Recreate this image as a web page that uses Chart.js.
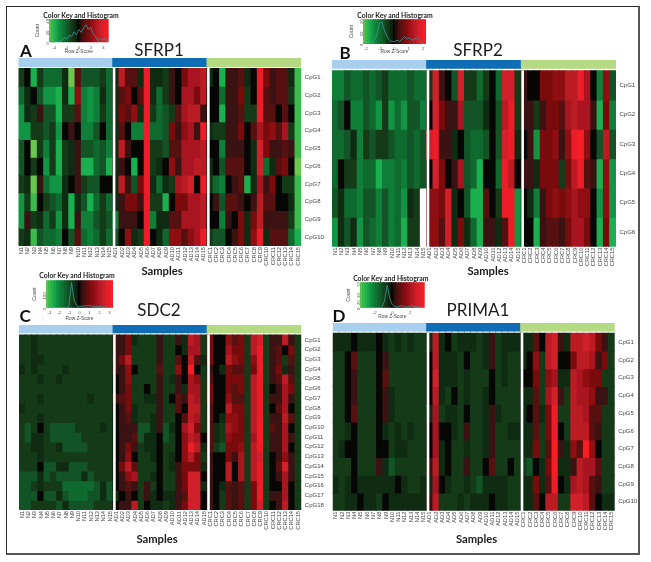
<!DOCTYPE html>
<html><head><meta charset="utf-8">
<style>
html,body{margin:0;padding:0;background:#fff;width:651px;height:562px;overflow:hidden}
#page{position:absolute;left:0;top:0;width:651px;height:562px;filter:blur(0.45px)}
#frame{position:absolute;left:6px;top:6px;width:631px;height:546px;border:1.5px solid #2b2b2b;border-right:2px solid #555;border-bottom:2px solid #555}
canvas{position:absolute}
.t{position:absolute;transform:translate(-50%,-50%);white-space:nowrap;line-height:1;color:#1c1c1c;font-family:Lato,sans-serif}
</style>
<script src="https://cdn.jsdelivr.net/npm/chart.js@4"></script>
</head><body><div id="page"><div id="frame"></div></div>
<script>
// ---------- data: row z-score level, -9 (green) .. 0 (black) .. 9 (red) ----------
const samples = ['N1','N2','N3','N4','N5','N6','N7','N8','N9','N10','N11','N12','N13','N14','N15',
 'AD1','AD2','AD3','AD4','AD5','AD6','AD7','AD8','AD9','AD10','AD11','AD12','AD13','AD14','AD15',
 'CRC1','CRC2','CRC3','CRC4','CRC5','CRC6','CRC7','CRC8','CRC9','CRC10','CRC11','CRC12','CRC13','CRC14','CRC15'];
const groupColors = ['#a9cfee','#0f6db6','#b4da84'];

const sfrp1 = [
 [-2,0,-7,-2,-4,-4,-4,-1,-9,2,-3,-3,-3,-2,-4,  -1,6,2,2,-1,8,-1,-1,-2,1,0,3,5,5,6,  -1,0,-7,1,1,2,-1,0,8,3,1,2,2,-1,-8],
 [-4,-1,0,-3,-6,-6,-7,-1,-7,4,-5,-6,-5,-1,-4,  -1,2,3,0,2,8,-1,-4,-2,1,0,5,5,3,6,  0,0,-4,1,1,3,-2,0,8,2,1,2,2,-2,-8],
 [-6,-1,-2,1,-3,-3,-7,-2,-2,2,-5,-6,-5,-2,-4,  -1,3,2,4,-1,8,-2,-4,-3,-2,2,5,6,6,1,  0,0,-7,1,1,2,-2,-2,8,2,2,0,2,0,-8],
 [-6,-6,-2,-2,-3,-2,-6,0,1,0,-5,-5,-3,0,-4,  -1,2,0,-5,-5,8,-4,-4,-3,3,1,4,5,1,8,  -1,-2,-2,1,1,3,0,2,5,3,4,2,5,-2,-8],
 [-3,0,-9,-2,-5,-2,-7,-2,-1,1,-3,-3,-4,-3,-5,  -1,6,1,0,0,8,-2,-2,-3,2,2,5,5,5,6,  0,0,-5,1,1,1,0,-1,7,3,1,1,2,1,-8],
 [-3,0,-2,0,-6,-2,-7,-2,-1,1,-7,-7,-4,-3,-7,  -1,1,0,-7,0,8,-2,-1,0,4,1,5,5,6,6,  -1,0,-3,2,2,2,0,-1,7,-4,-1,2,3,0,-9],
 [-2,-1,-9,1,-4,-6,-6,-1,0,1,-2,-3,-3,0,0,  -1,6,1,-3,3,8,-1,-4,-1,-2,5,6,7,0,8,  -2,-4,-5,0,1,2,-7,-1,5,1,3,0,-2,-2,-8],
 [-6,-2,-8,0,-2,-3,-4,-1,-7,-1,-3,-7,-4,-2,-4,  -1,1,3,3,1,8,-2,-2,-7,0,3,3,5,5,6,  0,1,-3,2,2,1,0,1,6,2,2,0,0,-1,-8],
 [-6,1,-2,-1,-4,-2,-6,-1,-7,1,-5,-5,-3,-2,-3,  -5,1,1,1,0,8,-5,-1,-1,2,2,5,5,5,6,  0,0,-5,1,0,3,-1,3,6,1,1,1,1,-2,-8],
 [-2,-1,-8,-3,-4,-4,-5,0,-3,2,-4,-5,-4,-2,-4,  -3,0,4,-1,-2,8,0,-1,-4,4,4,2,4,5,8,  -2,-3,-3,0,1,3,-1,4,8,-1,2,2,2,-4,-7]
];
const sfrp2 = [
 [-5,-5,-3,-4,-4,-3,-4,-3,-2,-4,-4,-4,-3,-4,-4,  -2,7,1,0,-3,7,-2,-2,-4,-2,0,-4,7,7,-2,  1,0,0,3,3,4,4,6,6,8,5,0,-5,4,-3],
 [-4,-3,0,-5,-5,-3,-4,-6,-2,-6,-4,-6,-3,-3,-5,  0,7,3,1,1,5,-3,-3,-3,-1,0,-3,6,8,-2,  1,1,-2,1,3,3,2,5,6,5,5,1,-7,3,-5],
 [-4,-4,-3,-1,-5,-2,-3,-2,-2,-3,-4,-4,-3,-4,-3,  7,8,1,1,-1,0,-3,-4,-4,-3,0,-3,7,8,-1,  0,1,-6,3,3,4,1,4,8,9,4,0,-3,6,-3],
 [-4,0,-2,-2,-5,-4,-4,-7,-5,-5,-4,-5,-3,-4,-3,  0,7,3,0,1,5,-3,-4,-7,0,0,-4,8,6,0,  1,1,-1,3,3,3,-2,3,6,8,2,1,-7,4,-6],
 [-3,-1,-4,-4,-5,-3,-3,-5,-3,-5,-4,-6,-1,-2,null,  4,4,3,7,-1,0,-3,-7,-7,2,0,-2,8,8,-6,  0,-1,-5,1,3,4,3,4,5,4,4,0,-6,4,-6],
 [-6,-1,-3,-1,-6,-3,-4,-5,-3,-5,-4,-7,-2,-2,null,  4,4,2,7,-1,3,-1,-4,-7,1,1,-1,2,8,-6,  0,0,-7,1,2,2,1,3,5,5,3,0,-7,3,-7]
];
const sdc2 = [
 [-2,-2,-1,-2,-2,-2,-2,-2,-2,-2,-2,-2,-2,-2,-2,  1,1,3,-1,-2,-2,-2,1,-2,-2,1,-1,6,5,-2,  3,0,0,4,2,3,-2,6,7,-2,1,1,6,1,-2],
 [-2,-2,-1,-2,-2,-2,-2,-2,-2,-2,-2,-2,-2,-2,-2,  1,1,3,-2,-2,-2,-2,1,-2,-2,0,-1,5,5,-2,  3,0,0,5,3,3,-2,6,8,-2,1,2,0,3,-2],
 [-2,-2,-1,-1,-2,-2,-2,-2,-2,-2,-2,-2,-2,-2,-2,  1,3,6,-2,-2,-2,-2,1,-2,-2,2,0,6,2,-1,  3,0,0,6,4,3,-2,4,8,-2,1,2,-2,2,-2],
 [-1,-2,-1,-2,-2,-2,-2,-1,-2,-2,-2,-2,-2,-2,-2,  1,1,4,0,-2,-2,-2,2,-2,-2,4,0,9,0,-2,  1,0,-1,3,2,2,-2,3,8,-2,1,3,-1,1,-2],
 [-2,-2,-2,-1,-2,-2,-1,-2,-2,-2,-2,-2,-2,-2,-2,  0,1,4,-2,-2,-2,-2,1,-2,-1,1,0,5,4,-2,  2,0,0,3,3,3,-2,6,8,-2,1,2,6,2,-2],
 [-2,-2,-2,-2,-2,-2,-2,-2,-2,-2,-2,-2,-2,-2,-2,  0,1,3,-2,-2,0,-2,1,-2,-2,1,-1,5,5,-2,  3,0,0,3,2,3,-2,6,8,-2,0,1,5,3,-2],
 [-2,-2,-2,-1,-2,-2,-2,-2,-2,-2,-2,-1,-2,-2,-2,  1,2,3,-2,-2,-1,-1,1,-2,0,2,1,6,5,-2,  3,0,0,4,2,2,-2,6,8,-2,1,1,5,1,-2],
 [-1,-2,-2,-2,-2,-2,-2,-2,-2,-2,-2,-2,-2,-2,-2,  0,1,3,-1,-2,-2,-2,1,-2,-2,2,0,6,6,-2,  2,0,0,6,3,3,-2,6,8,-2,0,2,5,0,-2],
 [-2,-2,-2,-1,-2,-2,-2,-2,-2,-2,-2,-2,-2,-2,-2,  0,1,2,-1,-2,-2,-1,1,-2,-2,0,2,6,5,-2,  2,0,-1,4,4,3,-2,6,8,-2,1,1,6,2,-2],
 [-2,-3,-2,0,-2,-3,-3,-3,-3,-2,-2,-2,-2,-1,-2,  0,1,1,1,-3,-3,-1,1,-3,-1,0,5,7,3,-2,  2,-1,-2,5,4,3,-2,6,9,-2,2,1,5,0,-2],
 [-2,-3,-1,-1,-2,-3,-3,-3,-3,-3,-2,-2,-2,-2,-2,  0,1,1,2,-3,-1,-1,0,-3,-2,0,4,6,5,0,  2,-1,-2,4,3,3,-2,5,9,-2,1,1,5,1,-2],
 [-2,-2,-1,-1,-2,-2,-1,-3,-3,-3,-3,-2,-2,-2,-2,  0,1,3,1,-2,-1,-1,0,-2,-2,0,4,8,6,-1,  2,-2,-3,3,3,4,-2,6,8,-2,1,1,5,0,-2],
 [-2,-2,-2,-1,-2,-2,-2,-2,-2,-2,-2,-2,-2,-2,-2,  0,1,4,0,-2,-2,-1,0,-2,-1,0,4,6,3,-2,  1,0,0,3,1,5,-2,6,7,-2,0,1,4,1,-2],
 [-2,-2,-2,0,-3,-3,-1,-1,-3,-3,-3,-2,-2,-2,-2,  0,3,6,2,-2,-2,-2,0,-2,-1,1,3,3,3,-1,  1,0,0,6,0,5,-2,6,8,-2,0,2,7,1,-2],
 [-3,-3,-3,-1,-3,-2,-3,-3,-3,-3,-1,-3,-2,-2,-2,  0,1,4,5,-2,-2,-1,0,-2,-2,1,3,7,7,0,  1,0,0,6,0,5,-2,6,8,-2,0,1,5,1,-2],
 [-3,-3,-2,-1,-2,-2,-2,-4,-4,-4,-4,-4,-3,-1,-3,  0,1,2,1,-2,1,-2,0,-2,-2,1,3,7,7,-1,  1,0,-1,2,1,2,-2,3,8,-2,0,0,5,0,-2],
 [-3,-3,-3,0,-3,-3,-1,-3,-4,-4,-4,-3,-3,-1,-3,  -1,0,1,0,-2,1,-1,0,-1,-1,1,2,7,7,0,  1,0,-2,2,1,2,-2,3,8,-2,1,1,5,0,-2],
 [-3,-3,-2,-2,-2,-2,-3,-1,-3,-3,-3,-3,-2,-2,-2,  0,1,1,6,-2,0,-1,-1,-2,-1,1,3,7,7,0,  1,0,-2,2,1,2,-2,3,7,-2,0,1,6,0,-2]
];
const prima1 = [
 [-1,-1,-1,0,-1,-1,-1,0,-1,-2,-1,-2,-1,-2,-2,  -1,6,-1,0,-2,-1,-1,-1,-2,-1,1,-2,-1,-1,-1,  -1,-1,2,0,6,7,1,-1,6,6,7,6,3,1,-2],
 [-2,-2,0,2,-2,-2,-2,0,1,-2,-2,-2,-2,-2,-2,  0,6,-1,-1,-1,-2,0,-2,-2,-1,1,-2,-1,-2,-2,  -1,0,4,-2,6,7,0,0,3,6,6,5,1,3,-2],
 [-2,-2,0,1,-2,-2,-2,0,2,-2,-2,-2,-2,-2,-2,  0,7,-1,-1,-1,-2,-1,-2,-2,-2,0,-2,-1,-2,-2,  0,0,3,-2,4,5,-1,-1,6,5,4,3,3,-2,-2],
 [-2,-2,0,1,-2,-2,-2,0,1,-1,-2,-2,-2,-2,-2,  0,6,-1,-2,0,-2,-1,-2,-2,-1,0,-2,-2,-2,-2,  -1,-1,2,-2,5,7,1,-2,6,5,5,4,1,1,-2],
 [-2,-2,0,2,-2,-2,-2,0,1,-1,-2,-2,-2,-2,-2,  -1,5,-2,-1,-1,-2,0,-2,-2,-1,1,-1,-2,-2,-2,  -1,0,2,-1,3,8,-2,-2,6,6,5,2,2,-2,-2],
 [-2,-2,-1,0,-2,-2,-2,0,-1,-2,-1,-2,-1,-2,-2,  0,5,0,0,-1,-2,1,-2,-2,-1,1,-2,-2,-1,-1,  -1,-1,2,-2,3,8,0,-2,6,6,6,2,1,-2,-2],
 [-2,-1,0,0,-2,-2,-2,0,0,-2,-1,-1,-2,-2,-2,  0,5,-1,0,-2,-2,-1,-2,-2,-1,1,-2,-2,-2,-2,  -1,-1,3,-2,2,9,1,-1,4,2,9,4,0,-2,-2],
 [-2,-2,-2,0,-2,-2,-2,1,-1,-3,-2,-2,-2,-2,-2,  1,6,-1,0,-2,-2,1,-2,-2,0,2,-2,-2,0,-2,  -2,-3,0,-1,3,9,-1,-1,1,6,5,5,2,-2,-2],
 [-1,-2,-1,0,-1,-1,-1,-1,-1,-1,0,-1,-2,-2,-1,  -1,5,0,-1,-2,-2,-1,-2,-3,-1,-1,-1,-1,-2,-2,  -1,-1,3,-1,2,8,0,-1,5,6,5,2,1,-2,-2],
 [-2,-2,-1,-1,0,-1,-1,-2,0,-1,-1,-1,-1,-1,-1,  1,6,-2,-2,-2,-1,-2,-1,-1,-1,0,-1,-1,-2,-2,  -1,-1,2,0,6,6,-2,-2,7,7,6,2,0,-1,-1]
];
const cpg6 = ['CpG1','CpG2','CpG3','CpG4','CpG5','CpG6'];
const cpg10 = ['CpG1','CpG2','CpG3','CpG4','CpG5','CpG6','CpG7','CpG8','CpG9','CpG10'];
const cpg18 = ['CpG1','CpG2','CpG3','CpG4','CpG5','CpG6','CpG7','CpG8','CpG9','CpG10','CpG11','CpG12','CpG13','CpG14','CpG15','CpG16','CpG17','CpG18'];

// colour-key histograms (count per bin)
const histA = [0,0,0,1,2,4,8,6,12,10,18,13,22,17,25,30,22,26,14,10,3,6,4,8,1];
const histB = [0,0,0,1,3,7,17,18,11,6,3,2,2,3,2,4,6,4,5,3,4,5,3,1,0];
const histC = [0,0,0,0,0,0,0,2,4,165,50,10,8,10,12,13,12,10,8,8,6,5,3,1,0];
const histD = [0,0,0,0,0,0,0,0,1,20,62,25,8,4,2,5,6,3,2,5,5,3,2,1,0];

// ---------- colour ramp ----------
const negRamp = ['#060605','#0f2c13','#143a18','#125426','#0f6a30','#0f7e38','#119544','#1ab04f','#3cba4e','#6cc64f'];
const posRamp = ['#060605','#3a1212','#561010','#7a0b0c','#8e0e12','#a8141f','#bb1c24','#d2202a','#ec1c28','#f61e24'];
const rgb = h => [1,3,5].map(i => parseInt(h.substr(i,2),16));
function levelColor(v){
  if (v === null || v === undefined) return '#ffffff';
  const ramp = v < 0 ? negRamp : posRamp;
  const a = Math.min(9, Math.abs(v)), i = Math.floor(a), f = a - i;
  const c0 = rgb(ramp[i]), c1 = rgb(ramp[Math.min(9, i+1)]);
  return 'rgb(' + c0.map((c,k) => Math.round(c + (c1[k]-c)*f)).join(',') + ')';
}

const page = document.getElementById('page');
function text(str, x, y, css){
  const d = document.createElement('div');
  d.className = 't'; d.textContent = str; d.style.left = x+'px'; d.style.top = y+'px';
  d.style.cssText += css; page.appendChild(d);
}
function canvas(l, t, w, h){
  const c = document.createElement('canvas');
  c.width = w; c.height = h; c.style.left = l+'px'; c.style.top = t+'px';
  c.style.width = w+'px'; c.style.height = h+'px';
  page.appendChild(c); return c;
}
const SANS = '"Liberation Sans", Arial, sans-serif';
Chart.defaults.animation = false;

function heatmap(rows, rowLabels, L, R, T, stripB, heatT, heatB){
  const axisW = 26, axisH = 24;
  const left = Math.floor(L)-4, top = Math.floor(T)-2;
  const cw = Math.ceil(R)-left+axisW+1, ch = Math.ceil(heatB)-top+axisH+1;
  const unit = (heatB-heatT)/rows.length;
  const stripU = (stripB-T)/unit, gapU = (heatT-stripB)/unit;
  const offset = stripU+gapU, total = offset+rows.length;
  const datasets = [
    {label:'Group', data:samples.map(s=>({x:s,y:stripU})),
     backgroundColor:ctx=>groupColors[Math.floor(ctx.dataIndex/15)], inflateAmount:0.5},
    {label:'', data:samples.map(s=>({x:s,y:gapU})), backgroundColor:'rgba(0,0,0,0)', inflateAmount:0}
  ];
  rows.forEach((r,i)=>datasets.push({label:rowLabels[i],
    data:samples.map((s,j)=>({x:s,y:1,z:r[j]})),
    backgroundColor:ctx=>levelColor(ctx.raw.z), inflateAmount:0.5}));
  const separators = {id:'separators', afterDatasetsDraw(chart){
    const x = chart.scales.x, y = chart.scales.y, c = chart.ctx;
    const step = x.getPixelForTick(1)-x.getPixelForTick(0);
    const y0 = y.getPixelForValue(offset), y1 = y.getPixelForValue(total);
    c.save(); c.fillStyle = '#fff';
    [14,29].forEach(i => c.fillRect(x.getPixelForTick(i)+step/2, y0-0.5, 2.6, y1-y0+1));
    c.restore();
  }};
  new Chart(canvas(left,top,cw,ch), {
    type:'bar',
    data:{labels:samples, datasets},
    plugins:[separators],
    options:{
      responsive:false, maintainAspectRatio:false, devicePixelRatio:1,
      layout:{padding:{left:L-left, top:T-top, right:cw-(R-left)-axisW, bottom:ch-(heatB-top)-axisH}},
      plugins:{legend:{display:false}, tooltip:{enabled:false}},
      datasets:{bar:{barPercentage:1, categoryPercentage:1, borderWidth:0}},
      scales:{
        x:{stacked:true, grid:{display:false, drawTicks:false}, border:{display:false},
           ticks:{autoSkip:false, minRotation:90, maxRotation:90, padding:1, color:'#444',
                  font:{family:SANS,size:5.7}},
           afterFit(s){s.height=axisH; s.paddingLeft=0; s.paddingRight=0;}},
        y:{stacked:true, reverse:true, position:'right', min:0, max:total,
           grid:{display:false, drawTicks:false}, border:{display:false},
           ticks:{autoSkip:false, padding:3.5, color:'#444', font:{family:SANS,size:6},
                  callback:(v,i)=>rowLabels[i]},
           afterBuildTicks(s){s.ticks = rowLabels.map((_,i)=>({value:offset+i+0.5}));},
           afterFit(s){s.width=axisW; s.paddingTop=0; s.paddingBottom=0;}}
      }
    }
  });
}

function colorKey(hist, zMax, zStep, yMax, yStep, L, R, T, B, axisH){
  const axisW = 14;
  const left = Math.floor(L)-axisW-1, top = Math.floor(T)-1;
  const cw = Math.ceil(R)-left+4, ch = Math.ceil(B)-top+axisH+1;
  const binW = 2*zMax/hist.length;
  const centers = hist.map((_,i)=>-zMax+binW*(i+0.5));
  new Chart(canvas(left,top,cw,ch), {
    type:'bar',
    data:{datasets:[
      {type:'line', label:'Count', data:hist.map((h,i)=>({x:centers[i],y:h})),
       borderColor:'#3a9a9a', borderWidth:0.8, pointRadius:0, tension:0, order:0},
      {type:'bar', label:'Key', data:centers.map(c=>({x:c,y:yMax})), order:1,
       backgroundColor:ctx=>levelColor(9*centers[ctx.dataIndex]/zMax),
       barPercentage:1, categoryPercentage:1, borderWidth:0, inflateAmount:0.5}
    ]},
    options:{
      responsive:false, maintainAspectRatio:false, devicePixelRatio:1,
      layout:{padding:{left:L-left-axisW, top:T-top, right:cw-(R-left), bottom:ch-(B-top)-axisH}},
      plugins:{legend:{display:false}, tooltip:{enabled:false}},
      scales:{
        x:{type:'linear', offset:false, min:-zMax, max:zMax, grid:{display:false, drawTicks:false}, border:{display:false},
           afterBuildTicks(s){ const t=[]; const n=Math.floor(zMax/zStep);
             for(let k=-n;k<=n;k++) t.push({value:k*zStep}); s.ticks=t; },
           ticks:{autoSkip:false, maxRotation:0, minRotation:0, padding:2.5, color:'#555', font:{family:SANS,size:4.3},
                  callback:v=>String(v)},
           title:{display:true, text:'Row Z-Score', color:'#444', padding:0, font:{family:SANS,size:4.8}},
           afterFit(s){s.height=axisH; s.paddingLeft=0; s.paddingRight=0;}},
        y:{min:0, max:yMax, grid:{display:false, drawTicks:false}, border:{display:false},
           ticks:{stepSize:yStep, minRotation:90, maxRotation:90, padding:1.5, color:'#555', font:{family:SANS,size:4.2}},
           title:{display:true, text:'Count', color:'#444', padding:0, font:{family:SANS,size:5}},
           afterFit(s){s.width=axisW; s.paddingTop=0; s.paddingBottom=0;}}
      }
    }
  });
}

heatmap(sfrp1,  cpg10, 18.5,301.3, 58,  66.5, 68.5, 246);
heatmap(sfrp2,  cpg6,  332, 616,   60,  68.3, 70.7, 246.7);
heatmap(sdc2,   cpg18, 19,  301.3, 325, 332.7,335,  510);
heatmap(prima1, cpg10, 332.7,614.7,323, 331,  333.3,510.7);

colorKey(histA, 4.85, 2, 40, 10, 49, 108.7, 19, 42.3, 12);
colorKey(histB, 2.2, 1, 20, 5, 363, 426, 19.3, 44, 11);
colorKey(histC, 3.35, 1, 180, 50, 46, 113, 280.3, 307.7, 14);
colorKey(histD, 3.65, 2, 70, 20, 360, 424.7, 282.3, 307.7, 12);

const H='font-size:17px;', S='font-size:11.2px;font-weight:700;', K='font-size:6.8px;font-weight:700;', P='font-size:17px;font-weight:700;color:#111;';
text('SFRP1',159,49.3,H); text('SFRP2',478,49,H); text('SDC2',159,309,H); text('PRIMA1',478,309,H);
text('Samples',162,271,S); text('Samples',488,271,S); text('Samples',157,538.7,S); text('Samples',476.5,538.7,S);
text('Color Key and Histogram',81,14.7,K); text('Color Key and Histogram',395,15.3,K);
text('Color Key and Histogram',77,275.3,K); text('Color Key and Histogram',390.8,277.7,K);
text('A',26,49.7,P); text('B',345,51.5,P); text('C',25,315,P); text('D',339,314.8,P);
</script>
</body></html>
